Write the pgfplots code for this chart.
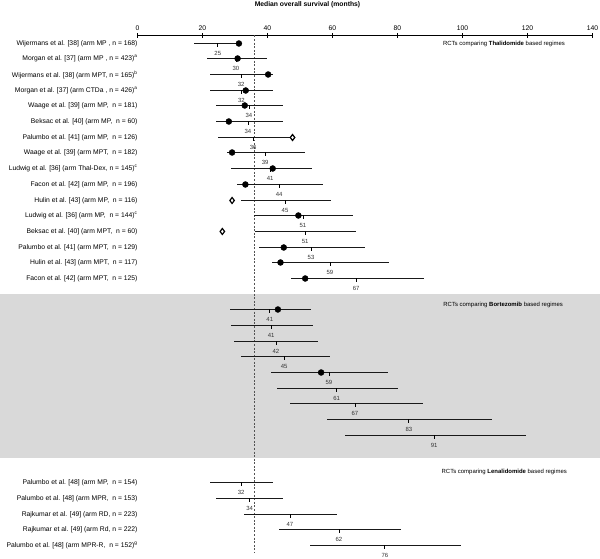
\documentclass[border=0pt]{standalone}
\usepackage{pgfplots}
\pgfplotsset{compat=1.18}
\usepackage{pgfplotstable}
\usepackage{fontspec}
\setmainfont{Liberation Sans}

% py = vertical position of each row (rows counted downward from the top)
\pgfplotstableread{
py lo hi med lab
43.5 17.3 31.2 24.7 25
58.5 21.4 39.8 30.3 30
74.5 22.4 41.7 31.9 32
90.5 22.4 41.7 32.0 32
105.5 24.1 44.8 34.3 34
121.5 24.1 44.8 34.0 34
137.5 24.9 47.7 35.6 36
152.5 27.6 51.4 39.3 39
168.5 28.8 53.6 40.8 41
184.5 30.6 57.0 43.6 44
200.5 31.7 59.4 45.4 45
215.5 35.9 66.4 50.9 51
231.5 36.1 67.2 51.6 51
247.5 37.5 69.9 53.4 53
262.5 41.4 77.3 59.2 59
278.5 47.1 88.1 67.3 67
309.5 28.6 53.3 40.7 41
325.5 28.9 53.9 41.1 41
341.5 29.8 55.5 42.6 42
356.5 31.7 59.1 45.1 45
372.5 41.1 77.0 58.9 59
388.5 42.9 80.1 61.3 61
403.5 46.9 87.7 66.9 67
419.5 58.4 109.2 83.5 83
435.5 63.7 119.6 91.3 91
482.5 22.4 41.8 31.9 32
498.5 24.2 44.8 34.5 34
514.5 32.8 61.3 46.9 47
529.5 43.4 81.1 62.0 62
545.5 53.1 99.6 76.1 76
}\cidata

\pgfplotstableread{
py x
43.5 31.2
58.5 30.8
74.5 40.2
90.5 33.3
105.5 33.0
121.5 28.1
152.5 29.1
168.5 41.6
184.5 33.2
215.5 49.5
247.5 45.0
262.5 44.0
278.5 51.6
309.5 43.2
372.5 56.5
}\dotdata

\pgfplotstableread{
py x
137.5 47.7
200.5 29.1
231.5 26.1
}\diadata

\newcommand{\lblfont}{\fontsize{6.8}{7.8}\selectfont}
\newcommand{\smfont}{\fontsize{6}{7}\selectfont}

\begin{document}
\begin{tikzpicture}
\useasboundingbox (-137.5bp,-6bp) rectangle (462.5bp,553bp);
\begin{axis}[
  scale only axis, width=455bp, height=517.5bp,
  xmin=0, xmax=140, ymin=-553, ymax=-35.5,
  clip=false,
  axis x line*=top, axis y line*=left,
  x axis line style={-, line width=0.8pt},
  y axis line style={draw=none},
  xtick={0,20,...,140},
  x tick style={line width=0.8pt, black},
  tick align=center, major tick length=5pt,
  ytick style={draw=none},
  xticklabel style={font=\lblfont, yshift=-1pt},
  /pgf/number format/assume math mode=true,
  ytick={-43.5,-58.5,-74.5,-90.5,-105.5,-121.5,-137.5,-152.5,-168.5,-184.5,-200.5,-215.5,-231.5,-247.5,-262.5,-278.5,-309.5,-325.5,-341.5,-356.5,-372.5,-388.5,-403.5,-419.5,-435.5,-482.5,-498.5,-514.5,-529.5,-545.5},
  yticklabels={
    {Wijermans et al. [38] (arm MP , n = 168)},
    {Morgan et al. [37] (arm MP , n = 423)\textsuperscript{a}},
    {Wijermans et al. [38] (arm MPT, n = 165)\textsuperscript{b}},
    {Morgan et al. [37] (arm CTDa , n = 426)\textsuperscript{a}},
    {Waage et al. [39] (arm MP,\ \ n = 181)},
    {Beksac et al. [40] (arm MP,\ \ n = 60)},
    {Palumbo et al. [41] (arm MP,\ \ n = 126)},
    {Waage et al. [39] (arm MPT,\ \ n = 182)},
    {Ludwig et al. [36] (arm Thal-Dex, n = 145)\textsuperscript{c}},
    {Facon et al. [42] (arm MP,\ \ n = 196)},
    {Hulin et al. [43] (arm MP,\ \ n = 116)},
    {Ludwig et al. [36] (arm MP,\ \ n = 144)\textsuperscript{c}},
    {Beksac et al. [40] (arm MPT,\ \ n = 60)},
    {Palumbo et al. [41] (arm MPT,\ \ n = 129)},
    {Hulin et al. [43] (arm MPT,\ \ n = 117)},
    {Facon et al. [42] (arm MPT,\ \ n = 125)},
    {San Miguel et al. [44] (arm MP,\ \ n = 338)},
    {Niesvizky et al. [45] (arm VD, n = 168)\textsuperscript{d}},
    {Niesvizky et al. [45] (arm VMP, n = 168)\textsuperscript{d}},
    {Niesvizky et al. [45] (arm VTD, n = 167)\textsuperscript{d}},
    {San Miguel et al. [44] (arm VMP,\ \ n = 344)},
    {Mateos et al. [46] (arm VTP,\ \ n = 130)},
    {Palumbo et al. [47] (arm VMP,\ \ n = 257)},
    {Mateos et al. [46] (arm VMP,\ \ n = 130)\textsuperscript{e}},
    {Palumbo et al. [47] (arm VMPT-VT,\ \ n = 254)\textsuperscript{f}},
    {Palumbo et al. [48] (arm MP,\ \ n = 154)},
    {Palumbo et al. [48] (arm MPR,\ \ n = 153)},
    {Rajkumar et al. [49] (arm RD, n = 223)},
    {Rajkumar et al. [49] (arm Rd, n = 222)},
    {Palumbo et al. [48] (arm MPR-R,\ \ n = 152)\textsuperscript{g}}
  },
  yticklabel style={font=\lblfont, anchor=east, xshift=6pt},
]
% grey band behind the Bortezomib group
\fill[gray!30] (axis cs:-42.3,-294.5) rectangle (axis cs:142.5,-458);

% reference median line
\addplot[gray!65!black, line width=1.3pt, dash pattern=on 2pt off 1.6pt] coordinates {(36,-35.5) (36,-553)};

% CI lines with median ticks
\addplot[black, only marks, mark=|, mark size=1.9pt,
  mark options={yshift=-1.9pt, line width=0.8pt, black},
  error bars/.cd, x dir=both, x explicit, error mark=none,
  error bar style={line width=1.5pt, black!90}]
  table[x=med, y expr=-\thisrow{py},
        x error plus expr=\thisrow{hi}-\thisrow{med},
        x error minus expr=\thisrow{med}-\thisrow{lo}] {\cidata};

% median labels
\addplot[only marks, mark=none, nodes near coords, point meta=explicit symbolic,
  every node near coord/.append style={anchor=center, yshift=-9.6pt, font=\smfont, text=black!80}]
  table[x=med, y expr=-\thisrow{py}, meta=lab] {\cidata};

% reported medians
\addplot[only marks, mark=*, mark size=3pt, black] table[x=x, y expr=-\thisrow{py}] {\dotdata};
\addplot[only marks, mark=diamond*, mark size=3pt, mark options={draw=black, fill=white, line width=1.2pt}] table[x=x, y expr=-\thisrow{py}] {\diadata};

% section labels
\node[anchor=east, font=\smfont] at (axis cs:132.6,-44) {RCTs comparing \textbf{Thalidomide} based regimes};
\node[anchor=east, font=\smfont] at (axis cs:132.0,-305) {RCTs comparing \textbf{Bortezomib} based regimes};
\node[anchor=east, font=\smfont] at (axis cs:133.2,-472) {RCTs comparing \textbf{Lenalidomide} based regimes};

% title
\node[font=\bfseries\lblfont] at (axis cs:52.3,-5) {Median overall survival (months)};
\end{axis}
\end{tikzpicture}
\end{document}
